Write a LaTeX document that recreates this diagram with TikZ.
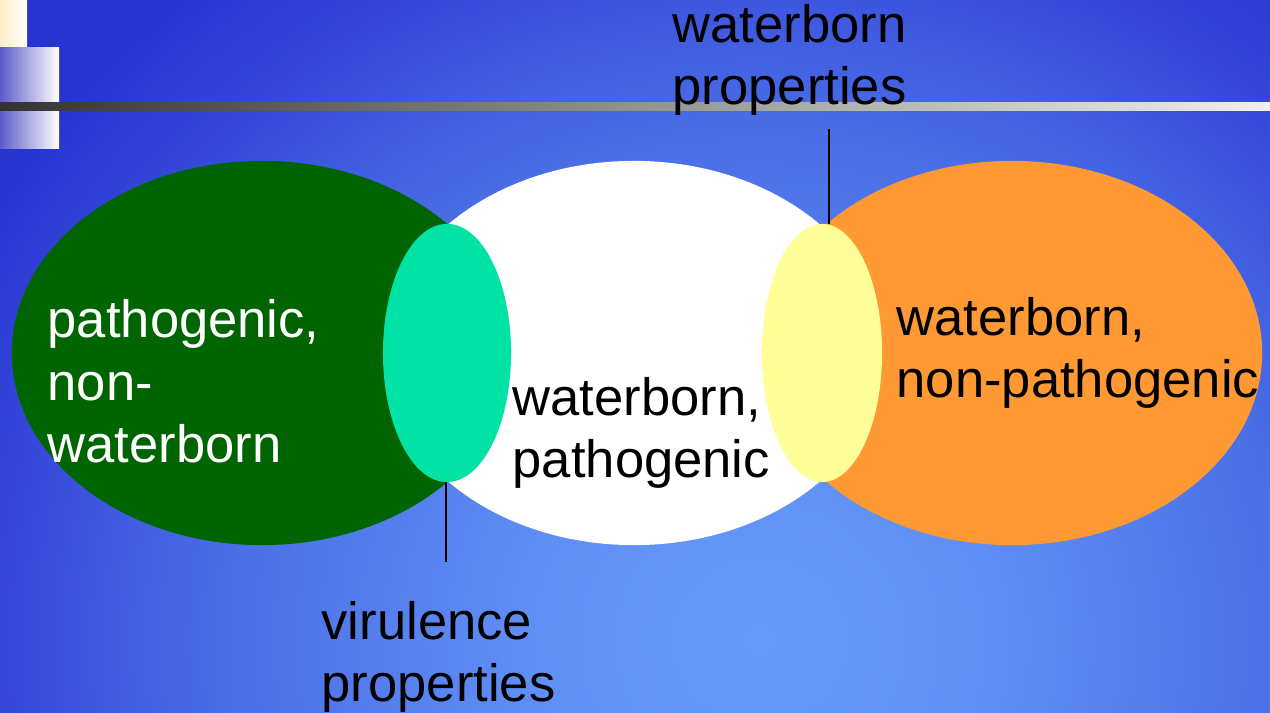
\documentclass[tikz,border=0pt]{standalone}
\usepackage{fontspec}
\setmainfont{Liberation Sans}
\usetikzlibrary{shapes.geometric}
\definecolor{bglight}{HTML}{6698FA}
\definecolor{bgsoft}{HTML}{6090F5}
\definecolor{bgmid}{HTML}{4A6EE6}
\definecolor{bgdeep}{HTML}{3648DA}
\definecolor{bgdark}{HTML}{2634D0}
\definecolor{cream}{HTML}{FFEEC6}
\definecolor{lilac}{HTML}{5C5CCA}
\definecolor{leafgreen}{HTML}{006400}
\definecolor{mint}{HTML}{00E3A5}
\definecolor{paleyellow}{HTML}{FFFF99}
\definecolor{warmorange}{HTML}{FF9933}
\pgfdeclareradialshading{bgglow}{\pgfpointorigin}{color(0bp)=(bglight); color(6bp)=(bgsoft); color(15bp)=(bgmid); color(21bp)=(bgdeep); color(25bp)=(bgdark); color(50bp)=(bgdark)}
\tikzset{
  blob/.style={ellipse, inner sep=0, outer sep=0, minimum width=5cm, minimum height=3.84cm},
  lens/.style={ellipse, inner sep=0, outer sep=0, minimum height=2.58cm},
  vtext/.style={anchor=base west, inner sep=0, align=left, font=\fontsize{14.95pt}{17.9pt}\selectfont},
  leader/.style={line width=0.6pt}
}
\begin{document}
\begin{tikzpicture}[x=0.01cm, y=-0.01cm]
\useasboundingbox (0,0) rectangle (1270,713);
\begin{scope}
  \clip (0,0) rectangle (1270,713);
  \shade[shading=bgglow] (-140,-210) rectangle (1660,1490);
\end{scope}
% slide ornaments
\shade[left color=cream, right color=white] (0,0) rectangle (27,48);
\shade[left color=lilac, right color=white] (0,48) rectangle (59,149);
\shade[left color=black!80, right color=black!6] (0,103) rectangle (1270,111);

% the three sets and their overlaps
\node[blob, fill=leafgreen] (path) at (262,353) {};
\node[blob, fill=white] (both) at (634,353) {};
\node[blob, fill=warmorange] (water) at (1012,353) {};
\node[lens, minimum width=1.28cm, fill=mint] (vir) at (447,353) {};
\node[lens, minimum width=1.2cm, fill=paleyellow] (wprop) at (822,353) {};

% base anchor sits on the last line
\node[vtext, text=white] (pnw) at (47,463) {pathogenic,\\non-\\waterborn};
\node[vtext] (wp) at (512,478) {waterborn,\\pathogenic};
\node[vtext] (wnp) at (896,398) {waterborn,\\non-pathogenic};
\node[vtext] (wbp) at (672,105) {waterborn\\properties};
\node[vtext] (vp) at (321,702) {virulence\\properties};

\coordinate (virend) at (446,562);
\coordinate (wpend) at (829,129);
\draw[leader] (virend |- vir.south) -- (virend);
\draw[leader] (wpend) -- (wpend |- wprop.north);
\end{tikzpicture}
\end{document}
